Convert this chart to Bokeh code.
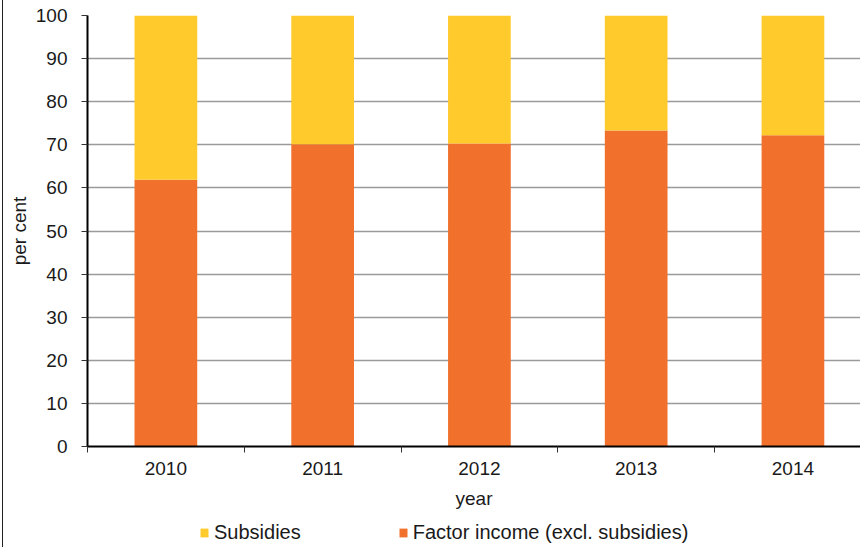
from bokeh.plotting import figure
from bokeh.layouts import column
from bokeh.models import Range1d, FixedTicker, Legend, LegendItem, ColumnDataSource
from bokeh.embed import file_html
from bokeh.resources import INLINE

years = ["2010", "2011", "2012", "2013", "2014"]
factor_income = [61.9, 70.1, 70.3, 73.3, 72.2]
subsidies = [38.1, 29.9, 29.7, 26.7, 27.8]
y_ticks = [0, 10, 20, 30, 40, 50, 60, 70, 80, 90, 100]
series_labels = ["Subsidies", "Factor income (excl. subsidies)"]

ORANGE = "#F1702B"
YELLOW = "#FFCA2C"
FONT = "Liberation Sans"
TXT = "#1a1a1a"
FS = "19px"

centers = [i + 0.5 for i in range(len(years))]
bounds = [i for i in range(len(years) + 1)]

src = ColumnDataSource(dict(x=centers, factor=factor_income, subs=subsidies))

FRAME_W = 773
X_END = 4.931

p = figure(frame_width=FRAME_W, frame_height=431,
           x_range=Range1d(0, X_END), y_range=Range1d(0, 100),
           output_backend="svg", toolbar_location=None,
           min_border_left=80, min_border_top=15, min_border_right=0, min_border_bottom=72)
p.outline_line_color = None
p.background_fill_color = "white"
p.border_fill_color = "white"

rs = p.vbar_stack(["factor", "subs"], x="x", width=0.4, source=src,
                  color=[ORANGE, YELLOW], line_color=None)

# y axis
p.yaxis.ticker = FixedTicker(ticks=y_ticks)
p.yaxis.axis_line_width = 2
p.yaxis.axis_line_color = "black"
p.yaxis.major_tick_out = 6
p.yaxis.major_tick_in = 0
p.yaxis.major_tick_line_color = "#333333"
p.yaxis.minor_tick_line_color = None
p.yaxis.major_label_text_font = FONT
p.yaxis.major_label_text_font_size = FS
p.yaxis.major_label_text_color = TXT
p.yaxis.major_label_standoff = 14
p.yaxis.axis_label = "per cent"
p.yaxis.axis_label_text_font = FONT
p.yaxis.axis_label_text_font_size = FS
p.yaxis.axis_label_text_font_style = "normal"
p.yaxis.axis_label_text_color = TXT
p.yaxis.axis_label_standoff = 3

# x axis
p.xaxis.ticker = FixedTicker(ticks=centers, minor_ticks=bounds)
p.xaxis.major_label_overrides = {c: y for c, y in zip(centers, years)}
p.xaxis.axis_line_width = 2
p.xaxis.axis_line_color = "black"
p.xaxis.major_tick_line_color = None
p.xaxis.major_tick_out = 0
p.xaxis.major_tick_in = 0
p.xaxis.minor_tick_out = 6
p.xaxis.minor_tick_in = 0
p.xaxis.minor_tick_line_color = "#333333"
p.xaxis.major_label_text_font = FONT
p.xaxis.major_label_text_font_size = FS
p.xaxis.major_label_text_color = TXT
p.xaxis.major_label_standoff = 9
p.xaxis.axis_label = "year"
p.xaxis.axis_label_text_font = FONT
p.xaxis.axis_label_text_font_size = FS
p.xaxis.axis_label_text_font_style = "normal"
p.xaxis.axis_label_text_color = TXT
p.xaxis.axis_label_standoff = 10

# grid
p.xgrid.grid_line_color = None
p.ygrid.ticker = FixedTicker(ticks=y_ticks)
p.ygrid.grid_line_color = "#9a9a9a"
p.ygrid.grid_line_width = 1.5

# legend strip below the chart (its swatch renderers are hidden copies of the bars)
lg = figure(width=80 + FRAME_W, height=29, x_range=Range1d(0, X_END), y_range=Range1d(0, 100),
            output_backend="svg", toolbar_location=None,
            x_axis_location=None, y_axis_location=None,
            min_border_left=80, min_border_right=0, min_border_top=0, min_border_bottom=0)
lg.outline_line_color = None
lg.xgrid.grid_line_color = None
lg.ygrid.grid_line_color = None
sw = lg.vbar_stack(["factor", "subs"], x="x", width=0.4, source=src,
                   color=[ORANGE, YELLOW], line_color=None)
for r in sw:
    r.visible = False
legend = Legend(items=[LegendItem(label=series_labels[0], renderers=[sw[1]]),
                       LegendItem(label=series_labels[1], renderers=[sw[0]])],
                orientation="horizontal", location=(112, 3),
                glyph_width=10, glyph_height=11, label_standoff=5, spacing=97,
                padding=0, margin=0, border_line_color=None, background_fill_alpha=0,
                inactive_fill_alpha=0,
                label_text_font=FONT, label_text_font_size="20px", label_text_color=TXT,
                label_height=20)
lg.add_layout(legend, "center")

layout = column(p, lg, spacing=0)
layout.styles = {"border-left": "1px solid #222222", "padding-left": "2px", "margin-left": "2px"}
open("out.html", "w").write(file_html(layout, INLINE))
